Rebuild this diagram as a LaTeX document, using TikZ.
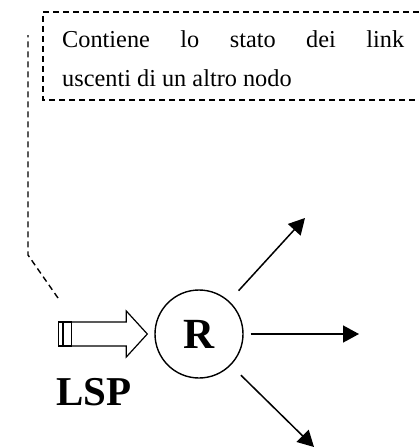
\documentclass[tikz,border=0pt]{standalone}
\usepackage{fontspec}
\setmainfont{Liberation Serif}
\usetikzlibrary{arrows.meta,positioning}

\tikzstyle{router}=[circle, draw, line width=1.4pt, minimum size=88pt, inner sep=0pt, font=\bfseries\fontsize{43}{43}\selectfont]
\tikzstyle{link} = [draw, line width=1.5pt, -{Triangle[length=16pt,width=17pt]}]
\tikzstyle{note} = [draw, line width=1.4pt, dash pattern=on 6pt off 4pt]
\tikzstyle{bigarrow} = [draw, line width=1.2pt, fill=white]

\begin{document}
\begin{tikzpicture}[x=1pt, y=-1pt]
        \useasboundingbox (0,0) rectangle (419,447);
        % dashed note box, open on the right
        \path[note] (419,12) -- (43,12) -- (43,100) -- (419,100);
        \node[anchor=north west, inner sep=0pt, text width=342pt, align=justify,
              font=\fontsize{24.3}{39}\selectfont] (txt) at (62,30)
            {Contiene lo stato dei link\linebreak uscenti di un altro nodo};
        % router and outgoing links
        \node[router] (R) at (199,334) {R};
        \coordinate (up) at (305,218);
        \coordinate (mid) at (359,334);
        \coordinate (down) at (314,447);
        \foreach \target/\sh in {up/14, mid/7, down/14}
            \path[link, shorten <=\sh pt] (R) -- (\target);
        % incoming LSP
        \coordinate (tip) at ([xshift=-7pt]R.west);
        \path[bigarrow] (tip) -- ++(-21,-23) -- ++(0,11) -- ++(-55,0) -- ++(0,24)
            -- ++(55,0) -- ++(0,11) -- cycle;
        \path[bigarrow] ([xshift=-89pt,yshift=12pt]tip) rectangle ++(4,24);
        \path[bigarrow] ([xshift=-84pt,yshift=12pt]tip) rectangle ++(8,24);
        \node[font=\bfseries\fontsize{41}{41}\selectfont, anchor=base west, inner sep=0pt] (lsp) at (56,405) {LSP};
        % dashed pointer to the note
        \coordinate (from) at (58,298);
        \path[note] (from) -- (28,255) -- (28,35);
    \end{tikzpicture}
\end{document}
